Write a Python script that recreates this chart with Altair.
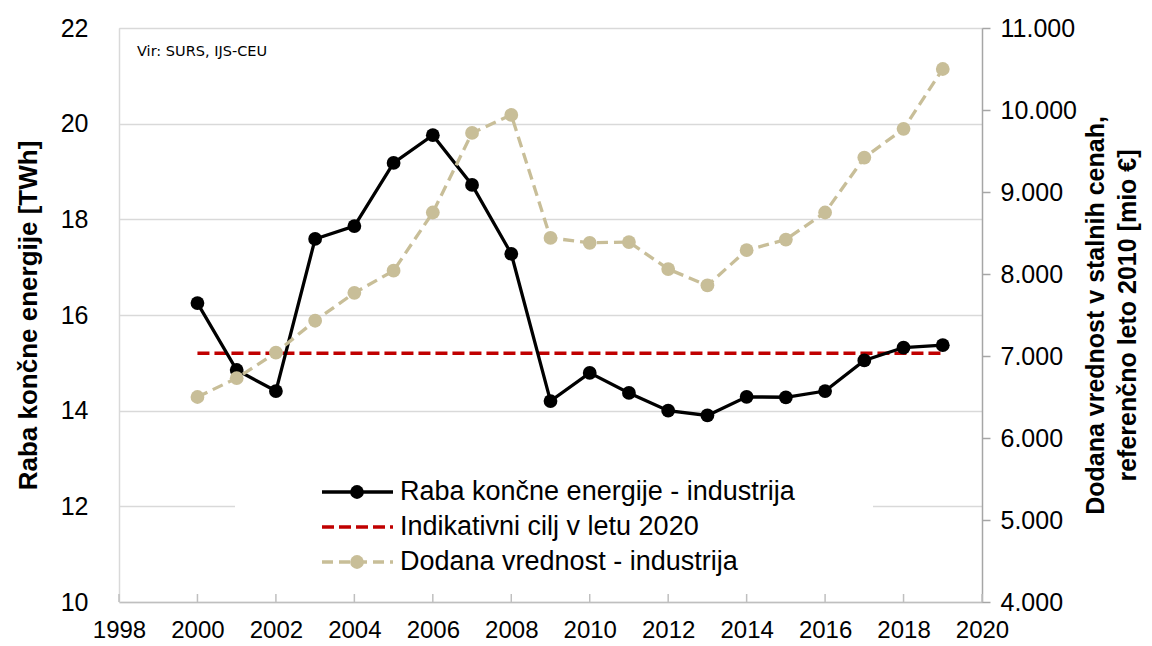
import altair as alt
import pandas as pd

# ---------------- data ----------------
years = list(range(2000, 2020))
energy_twh = [16.25, 14.85, 14.41, 17.59, 17.86, 19.18, 19.76, 18.72, 17.28, 14.20,
              14.79, 14.37, 14.00, 13.90, 14.29, 14.28, 14.41, 15.05, 15.32, 15.37]
value_added = [6500, 6730, 7040, 7430, 7770, 8040, 8750, 9720, 9940, 8440,
               8380, 8390, 8060, 7860, 8290, 8420, 8750, 9420, 9770, 10500]
target_years = [2000, 2019]
target_twh = [15.2, 15.2]
x_ticks = list(range(1998, 2021, 2))
left_ticks = list(range(10, 23, 2))
right_ticks = list(range(4000, 11001, 1000))
legend_labels = ["Raba končne energije - industrija",
                 "Indikativni cilj v letu 2020",
                 "Dodana vrednost - industrija"]
source_text = "Vir: SURS, IJS-CEU"
left_title = "Raba končne energije [TWh]"
right_title = ["Dodana vrednost v stalnih cenah,", "referenčno leto 2010 [mio €]"]

# ---------------- style ----------------
W, H = 863, 574
FONT = "Liberation Sans"
BLACK = "#000000"
RED = "#C00000"
BEIGE = "#C8BE98"
GRID = "#d9d9d9"

df = pd.DataFrame({"year": years, "energy": energy_twh, "va": value_added})
df_target = pd.DataFrame({"year": target_years, "energy": target_twh})
df_ticks = pd.DataFrame({"year": x_ticks})

x_scale = alt.Scale(domain=[1998, 2020], nice=False, zero=False)
x_axis = alt.Axis(values=x_ticks, format="d", title=None, grid=False,
                  labelFont=FONT, labelFontSize=24, labelColor=BLACK,
                  labelPadding=16, ticks=False, tickSize=0,
                  domainColor="#bfbfbf", domainWidth=1.5, labelFlush=False)
xenc = alt.X("year:Q", scale=x_scale, axis=x_axis)

y_left_scale = alt.Scale(domain=[10, 22], nice=False, zero=False)
y_left_axis = alt.Axis(values=left_ticks, title=left_title, grid=True,
                       gridColor=GRID, gridWidth=1.3,
                       labelFont=FONT, labelFontSize=25, labelColor=BLACK,
                       labelPadding=31, ticks=False, tickSize=0,
                       domainColor=GRID, domainWidth=1.5,
                       titleFont=FONT, titleFontSize=26, titleFontWeight="bold",
                       titleColor=BLACK, titlePadding=19)
yleft = alt.Y("energy:Q", scale=y_left_scale, axis=y_left_axis)

y_right_scale = alt.Scale(domain=[4000, 11000], nice=False, zero=False)
y_right_axis = alt.Axis(orient="right", values=right_ticks, grid=False,
                        labelExpr="replace(format(datum.value, ','), ',', '.')",
                        labelFont=FONT, labelFontSize=25, labelColor=BLACK,
                        labelPadding=10, ticks=True, tickSize=8,
                        tickColor="#a6a6a6", tickWidth=1.5,
                        domainColor="#a6a6a6", domainWidth=1.5,
                        title=right_title, titleAngle=270,
                        titleFont=FONT, titleFontSize=25, titleFontWeight="bold",
                        titleColor=BLACK, titlePadding=0, titleLineHeight=32)
yright = alt.Y("va:Q", scale=y_right_scale, axis=y_right_axis)

target = alt.Chart(df_target).mark_line(
    color=RED, strokeWidth=3.5, strokeDash=[12, 5]
).encode(x=xenc, y=yleft)

energy = alt.Chart(df).mark_line(
    color=BLACK, strokeWidth=3.3,
    point=alt.OverlayMarkDef(filled=True, size=190, color=BLACK, opacity=1)
).encode(x=xenc, y=yleft)

left = alt.layer(target, energy)

va = alt.Chart(df).mark_line(
    color=BEIGE, strokeWidth=3.3, strokeDash=[11, 6],
    point=alt.OverlayMarkDef(filled=True, size=190, color=BEIGE, opacity=1)
).encode(x=xenc, y=yright)

ticks = alt.Chart(df_ticks).mark_rule(color="#bfbfbf", strokeWidth=1.5).encode(
    x=xenc, y=alt.value(H - 8), y2=alt.value(H)
)

# ---------------- legend (manual) ----------------
leg_x0, leg_x1, leg_mid, leg_tx = 203, 274, 238, 281
leg_rows = [464, 499, 534]
one = pd.DataFrame({"k": [0]})

legend_layers = [
    alt.Chart(one).mark_rect(color="white").encode(
        x=alt.value(116), x2=alt.value(754), y=alt.value(442), y2=alt.value(565))
]
styles = [
    dict(color=BLACK, dash=None, point=True),
    dict(color=RED, dash=[12, 5], point=False),
    dict(color=BEIGE, dash=[11, 6], point=True),
]
for lab, row, st in zip(legend_labels, leg_rows, styles):
    rule_kw = dict(color=st["color"], strokeWidth=3.4)
    if st["dash"]:
        rule_kw["strokeDash"] = st["dash"]
    legend_layers.append(
        alt.Chart(one).mark_rule(**rule_kw).encode(
            x=alt.value(leg_x0), x2=alt.value(leg_x1), y=alt.value(row))
    )
    if st["point"]:
        legend_layers.append(
            alt.Chart(one).mark_point(filled=True, size=190, color=st["color"], opacity=1).encode(
                x=alt.value(leg_mid), y=alt.value(row))
        )
    legend_layers.append(
        alt.Chart(pd.DataFrame({"t": [lab]})).mark_text(
            align="left", baseline="middle", font=FONT, fontSize=27, color=BLACK
        ).encode(x=alt.value(leg_tx), y=alt.value(row), text="t:N")
    )

source = alt.Chart(pd.DataFrame({"t": [source_text]})).mark_text(
    align="left", baseline="middle", font="DejaVu Sans", fontSize=14.5, color=BLACK
).encode(x=alt.value(18), y=alt.value(24), text="t:N")

chart = alt.layer(
    left, va, ticks, *legend_layers, source
).resolve_scale(y="independent").properties(
    width=W, height=H,
    autosize=alt.AutoSizeParams(type="none"),
    padding={"left": 111, "top": 20, "right": 160, "bottom": 42},
).configure_view(stroke=None).configure(background="white")

chart.save("out.html", embed_options={"renderer": "svg", "actions": False})
